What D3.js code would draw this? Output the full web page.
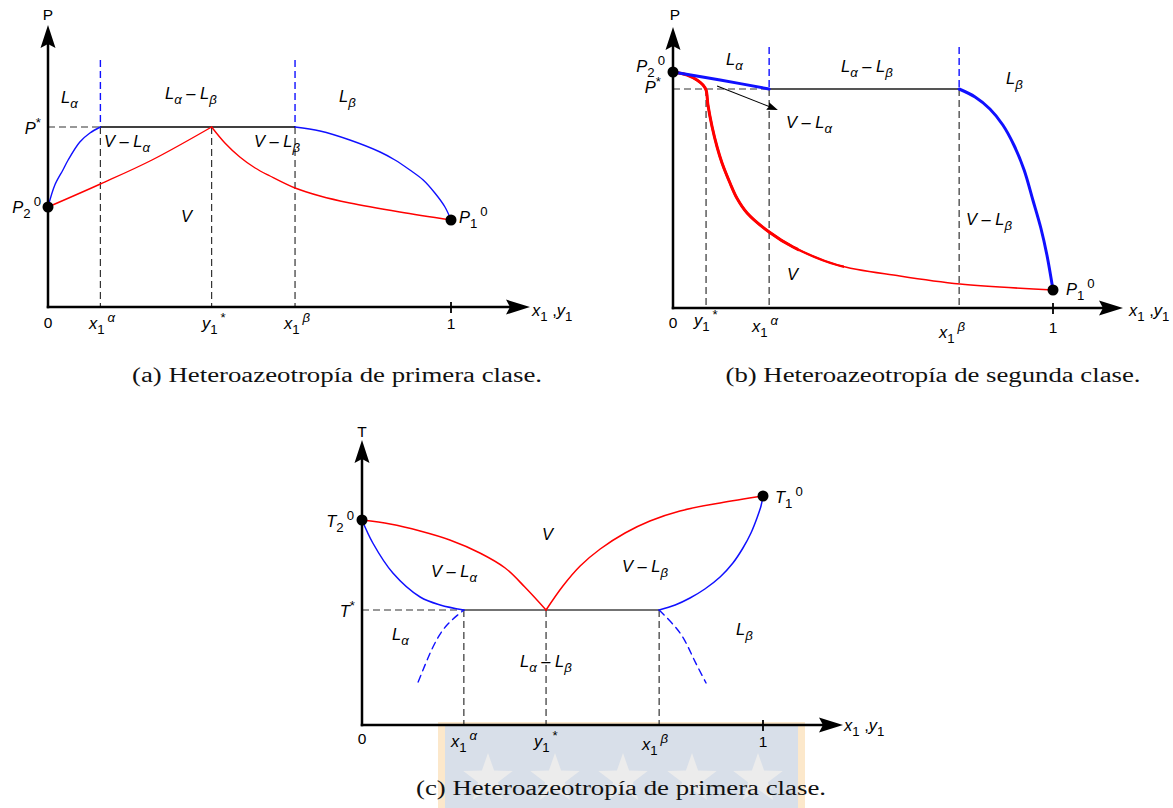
<!DOCTYPE html>
<html>
<head>
<meta charset="utf-8">
<script src="https://cdn.jsdelivr.net/npm/d3@7"></script>
<style>
  html, body { margin: 0; padding: 0; background: #fff; }
  svg { display: block; }
</style>
</head>
<body>
<svg id="fig" width="1173" height="808"></svg>
<script>
// ---------- Panel (a): first-class heteroazeotrope, P vs x1,y1 ----------
// key compositions: x1^alpha, y1*, x1^beta ; pressures P*, P2^0, P1^0 (reduced units)
const aKeyX = [0.13, 0.406, 0.613];
const aKeyP = [0.90, 0.50, 0.435];
const aLiqAlpha = [[0, 0.50], [0.017, 0.61], [0.037, 0.685], [0.05, 0.735], [0.079, 0.825], [0.104, 0.87], [0.13, 0.90]];
const aVapAlpha = [[0, 0.50], [0.13, 0.615], [0.258, 0.735], [0.406, 0.90]];
const aVapBeta  = [[0.406, 0.90], [0.439, 0.82], [0.476, 0.75], [0.514, 0.695], [0.551, 0.655], [0.613, 0.595],
                   [0.675, 0.555], [0.749, 0.52], [0.873, 0.475], [1.0, 0.435]];
const aLiqBeta  = [[0.613, 0.90], [0.675, 0.88], [0.749, 0.835], [0.824, 0.775], [0.861, 0.735], [0.898, 0.685],
                   [0.931, 0.635], [0.96, 0.57], [0.985, 0.50], [1.0, 0.435]];

// ---------- Panel (b): second-class heteroazeotrope ----------
const bKeyX = [0.087, 0.253, 0.753];
const bKeyP = [0.876, 0.944, 0.072];
const bLiqAlpha = [[0, 0.944], [0.124, 0.912], [0.253, 0.876]];
const bVap = [[0, 0.944], [0.037, 0.932], [0.063, 0.912], [0.079, 0.892], [0.087, 0.872], [0.092, 0.812],
              [0.103, 0.724], [0.116, 0.644], [0.129, 0.58], [0.15, 0.50], [0.168, 0.44], [0.195, 0.38],
              [0.253, 0.304], [0.316, 0.244], [0.432, 0.172], [0.597, 0.128], [0.755, 0.096], [1.0, 0.072]];
const bLiqBeta  = [[0.753, 0.876], [0.795, 0.844], [0.834, 0.796], [0.868, 0.732], [0.897, 0.652], [0.924, 0.552],
                   [0.947, 0.432], [0.968, 0.32], [0.984, 0.212], [1.0, 0.072]];
const bPointer  = [[0.116, 0.888], [0.276, 0.792]];

// ---------- Panel (c): first-class heteroazeotrope, T vs x1,y1 ----------
const cKeyX = [0.254, 0.459, 0.741];
const cKeyT = [0.46, 0.82, 0.916];
const cVapAlpha = [[0, 0.82], [0.07, 0.804], [0.145, 0.776], [0.219, 0.74], [0.294, 0.688], [0.357, 0.628],
                   [0.406, 0.552], [0.459, 0.46]];
const cVapBeta  = [[0.459, 0.46], [0.501, 0.556], [0.544, 0.636], [0.594, 0.704], [0.656, 0.768], [0.718, 0.816],
                   [0.793, 0.856], [0.893, 0.888], [1.0, 0.916]];
const cLiqAlpha = [[0, 0.82], [0.027, 0.728], [0.077, 0.608], [0.145, 0.512], [0.195, 0.48], [0.254, 0.46]];
const cLiqBeta  = [[0.741, 0.46], [0.781, 0.48], [0.818, 0.508], [0.855, 0.544], [0.893, 0.592], [0.925, 0.648],
                   [0.95, 0.708], [0.97, 0.768], [0.985, 0.828], [0.995, 0.876], [1.0, 0.916]];
const cMetaAlpha = [[0.14, 0.172], [0.177, 0.312], [0.212, 0.40], [0.254, 0.46]];
const cMetaBeta  = [[0.741, 0.46], [0.793, 0.368], [0.825, 0.272], [0.858, 0.168]];

const captions = [
  "(a) Heteroazeotropía de primera clase.",
  "(b) Heteroazeotropía de segunda clase.",
  "(c) Heteroazeotropía de primera clase."
];

// ---------- styling ----------
const SANS = "'Liberation Sans', Arial, Helvetica, sans-serif";
const SERIF = "'Liberation Serif', 'Times New Roman', serif";
const RED = "#ff0000", BLUE = "#1010ff", INK = "#000", DASH = "#333";
const FS = 16.5;
const SMOOTH = d3.curveCatmullRom.alpha(0.5);

const svg = d3.select("#fig");
const defs = svg.append("defs");

function makePanel(xr, yr) {
  return {
    x: d3.scaleLinear().domain([0, 1]).range(xr),
    y: d3.scaleLinear().domain([0, 1]).range(yr)
  };
}
const PA = makePanel([48, 451], [307, 107]);
const PB = makePanel([673, 1053], [308, 58]);
const PC = makePanel([362, 763], [725, 475]);

// ---------- crest band behind caption (c) ----------
const crest = svg.append("g");
crest.append("rect").attr("x", 438).attr("y", 722).attr("width", 367).attr("height", 86).attr("fill", "#fce8cb");
crest.append("rect").attr("x", 445).attr("y", 725).attr("width", 353).attr("height", 83).attr("fill", "#d8dfe9");
const crestStars = [488, 555, 623, 692, 758];
crestStars.forEach(cx => {
  const cy = 779, R = 26, r = R * 0.4;
  const pts = d3.range(10).map(i => {
    const a = -Math.PI / 2 + i * Math.PI / 5, rad = i % 2 ? r : R;
    return [cx + rad * Math.cos(a), cy + rad * Math.sin(a)];
  });
  crest.append("path").attr("d", d3.line()(pts) + "Z").attr("fill", "#ececec");
});

// ---------- helpers ----------
function curve(P, data, color, width, dash, curveType) {
  const gen = d3.line().x(d => P.x(d[0])).y(d => P.y(d[1])).curve(curveType || SMOOTH);
  const p = svg.append("path").attr("d", gen(data)).attr("fill", "none")
    .attr("stroke", color).attr("stroke-width", width)
    .attr("stroke-linejoin", "round").attr("stroke-linecap", "round");
  if (dash) p.attr("stroke-dasharray", dash);
  return p;
}
function clipLeftOf(id, xpx) {
  defs.append("clipPath").attr("id", id).append("rect")
    .attr("x", 0).attr("y", 0).attr("width", xpx).attr("height", 808);
  return `url(#${id})`;
}
function seg(x1, y1, x2, y2, color, width, dash) {
  const l = svg.append("line").attr("x1", x1).attr("y1", y1).attr("x2", x2).attr("y2", y2)
    .attr("stroke", color).attr("stroke-width", width);
  if (dash) l.attr("stroke-dasharray", dash);
  return l;
}
function arrowHead(x, y, angle, len, half, notch) {
  svg.append("path")
    .attr("d", `M0,0 L${-len},${-half} L${-len + notch},0 L${-len},${half} Z`)
    .attr("transform", `translate(${x},${y}) rotate(${angle})`)
    .attr("fill", INK);
}
function drawAxes(P, yTip, xTip) {
  const x0 = P.x(0), y0 = P.y(0);
  seg(x0, y0 + 1.25, x0, yTip + 16, INK, 2.5);
  arrowHead(x0, yTip, -90, 23, 7.5, 4);
  seg(x0 - 1.25, y0, xTip - 16, y0, INK, 2.5);
  arrowHead(xTip, y0, 0, 24, 7.5, 4);
  seg(P.x(1), y0 - 5, P.x(1), y0 + 6, INK, 1.8);
}
function dot(P, xv, yv) {
  svg.append("circle").attr("cx", P.x(xv)).attr("cy", P.y(yv)).attr("r", 5.5).attr("fill", INK);
}
function label(x, y, parts, opt = {}) {
  const size = opt.size || FS;
  const t = svg.append("text").attr("x", x).attr("y", y)
    .attr("font-family", SANS).attr("font-size", size)
    .attr("text-anchor", opt.anchor || "start").attr("fill", INK);
  let off = 0;
  parts.forEach(p => {
    const target = p.sub ? size * 0.32 : (p.sup ? -size * 0.45 : 0);
    const ts = t.append("tspan").text(p.t).attr("dy", target - off);
    off = target;
    if (p.i) ts.attr("font-style", "italic");
    if (p.sub || p.sup) ts.attr("font-size", size * 0.8);
    if (p.dx) ts.attr("dx", p.dx);
  });
  return t;
}
const La = [{t: "L", i: 1}, {t: "α", i: 1, sub: 1}];
const Lb = [{t: "L", i: 1}, {t: "β", i: 1, sub: 1}];
const LaLb = [{t: "L", i: 1}, {t: "α", i: 1, sub: 1}, {t: " – L", i: 1}, {t: "β", i: 1, sub: 1}];
const VLa = [{t: "V – L", i: 1}, {t: "α", i: 1, sub: 1}];
const VLb = [{t: "V – L", i: 1}, {t: "β", i: 1, sub: 1}];
const Vv = [{t: "V", i: 1}];
const star = s => [{t: s, i: 1}, {t: "*", sup: 1}];
const pure = (s, k) => [{t: s, i: 1}, {t: k, sub: 1}, {t: "0", sup: 1, dx: 3}];
const x1a = [{t: "x", i: 1}, {t: "1", sub: 1}, {t: "α", i: 1, sup: 1, dx: 3}];
const x1b = [{t: "x", i: 1}, {t: "1", sub: 1}, {t: "β", i: 1, sup: 1, dx: 3}];
const y1s = [{t: "y", i: 1}, {t: "1", sub: 1}, {t: "*", sup: 1, dx: 3}];
const xy = [{t: "x", i: 1}, {t: "1", sub: 1}, {t: " ,", dx: 0}, {t: "y", i: 1}, {t: "1", sub: 1}];
const num = s => [{t: s}];

function caption(cx, y, text, width) {
  svg.append("text").attr("x", cx - width / 2).attr("y", y)
    .attr("font-family", SERIF).attr("font-size", 20).attr("fill", "#111")
    .attr("textLength", width).attr("lengthAdjust", "spacingAndGlyphs")
    .text(text);
}

// ================= Panel (a) =================
{
  const P = PA, [xa, ys, xb] = aKeyX, [Ps, P2, P1] = aKeyP;
  const top = 1.235;
  // construction lines
  seg(P.x(0), P.y(Ps), P.x(xa), P.y(Ps), DASH, 1.2, "7,4");
  [xa, ys, xb].forEach(v => seg(P.x(v), P.y(Ps), P.x(v), P.y(0), DASH, 1.2, "7,4"));
  [xa, xb].forEach(v => seg(P.x(v), P.y(top), P.x(v), P.y(Ps), BLUE, 1.4, "7,4"));
  seg(P.x(xa), P.y(Ps), P.x(xb), P.y(Ps), INK, 1.4);
  // phase boundaries
  curve(P, aVapAlpha, RED, 1.4);
  curve(P, aVapBeta, RED, 1.4);
  curve(P, aLiqAlpha, BLUE, 1.4);
  curve(P, aLiqBeta, BLUE, 1.4);
  drawAxes(P, 25, 530);
  dot(P, 0, P2);
  dot(P, 1, P1);
  // text
  label(48, 20, num("P"), {anchor: "middle", size: 15.5});
  label(61, 103, La);
  label(165, 99, LaLb);
  label(339, 102, Lb);
  label(41, 134, star("P"), {anchor: "end"});
  label(104, 147, VLa);
  label(254, 147, VLb);
  label(181, 222, Vv);
  label(41, 213, pure("P", "2"), {anchor: "end"});
  label(459, 223, pure("P", "1"));
  label(48, 328, num("0"), {anchor: "middle", size: 15.5});
  label(89, 329, x1a);
  label(202, 329, y1s);
  label(284, 329, x1b);
  label(451, 329, num("1"), {anchor: "middle", size: 15.5});
  label(532, 316, xy);
}

// ================= Panel (b) =================
{
  const P = PB, [ys, xa, xb] = bKeyX, [Ps, P2, P1] = bKeyP;
  const top = 1.044;
  seg(P.x(0), P.y(Ps), P.x(xa), P.y(Ps), DASH, 1.2, "7,4");
  [ys, xa, xb].forEach(v => seg(P.x(v), P.y(Ps), P.x(v), P.y(0), DASH, 1.2, "7,4"));
  [xa, xb].forEach(v => seg(P.x(v), P.y(top), P.x(v), P.y(Ps), BLUE, 1.4, "7,4"));
  seg(P.x(xa), P.y(Ps), P.x(xb), P.y(Ps), "#555", 2);
  // vapour curve: thick near the azeotrope, tapering toward P1^0
  curve(P, bVap, RED, 1.6);
  curve(P, bVap, RED, 2.3).attr("clip-path", clipLeftOf("bTaper1", P.x(0.45)));
  curve(P, bVap, RED, 3).attr("clip-path", clipLeftOf("bTaper2", P.x(0.33)));
  curve(P, bLiqAlpha, BLUE, 3);
  curve(P, bLiqBeta, BLUE, 3);
  // pointer to the V–Lα region
  const [p0, p1] = bPointer;
  const X0 = P.x(p0[0]), Y0 = P.y(p0[1]), X1 = P.x(p1[0]), Y1 = P.y(p1[1]);
  const ang = Math.atan2(Y1 - Y0, X1 - X0);
  seg(X0, Y0, X1 - 8 * Math.cos(ang), Y1 - 8 * Math.sin(ang), INK, 1.1);
  arrowHead(X1, Y1, ang * 180 / Math.PI, 11, 4, 1.5);
  drawAxes(P, 27, 1123);
  dot(P, 0, P2);
  dot(P, 1, P1);
  label(675, 20, num("P"), {anchor: "middle", size: 15.5});
  label(665, 72, pure("P", "2"), {anchor: "end"});
  label(661, 93, star("P"), {anchor: "end"});
  label(726, 65, La);
  label(841, 72, LaLb);
  label(1006, 84, Lb);
  label(786, 128, VLa);
  label(966, 225, VLb);
  label(787, 280, Vv);
  label(1066, 295, pure("P", "1"));
  label(673, 328, num("0"), {anchor: "middle", size: 15.5});
  label(694, 326, y1s);
  label(752, 332, x1a);
  label(939, 338, x1b);
  label(1053, 333, num("1"), {anchor: "middle", size: 15.5});
  label(1129, 316, xy);
}

// ================= Panel (c) =================
{
  const P = PC, [xa, ys, xb] = cKeyX, [Ts, T2, T1] = cKeyT;
  seg(P.x(0), P.y(Ts), P.x(xa), P.y(Ts), DASH, 1.2, "7,4");
  [xa, ys, xb].forEach(v => seg(P.x(v), P.y(Ts), P.x(v), P.y(0), DASH, 1.2, "7,4"));
  seg(P.x(xa), P.y(Ts), P.x(xb), P.y(Ts), "#444", 1.5);
  curve(P, cMetaAlpha, BLUE, 1.4, "7,5", d3.curveNatural);
  curve(P, cMetaBeta, BLUE, 1.4, "7,5", d3.curveNatural);
  curve(P, cVapAlpha, RED, 1.5);
  curve(P, cVapBeta, RED, 1.5);
  curve(P, cLiqAlpha, BLUE, 1.5);
  curve(P, cLiqBeta, BLUE, 1.5);
  drawAxes(P, 440, 843);
  dot(P, 0, T2);
  dot(P, 1, T1);
  label(362, 437, num("T"), {anchor: "middle", size: 15.5});
  label(354, 527, pure("T", "2"), {anchor: "end"});
  label(775, 503, pure("T", "1"));
  label(542, 540, Vv);
  label(431, 577, VLa);
  label(622, 572, VLb);
  label(355, 617, star("T"), {anchor: "end"});
  label(392, 640, La);
  label(520, 667, LaLb);
  label(736, 635, Lb);
  label(362, 744, num("0"), {anchor: "middle", size: 15.5});
  label(451, 747, x1a);
  label(534, 747, y1s);
  label(642, 750, x1b);
  label(763, 747, num("1"), {anchor: "middle", size: 15.5});
  label(844, 731, xy);
}

// ---------- captions ----------
caption(337, 382, captions[0], 410);
caption(933, 382, captions[1], 415);
caption(621, 795, captions[2], 410);
</script>
</body>
</html>
